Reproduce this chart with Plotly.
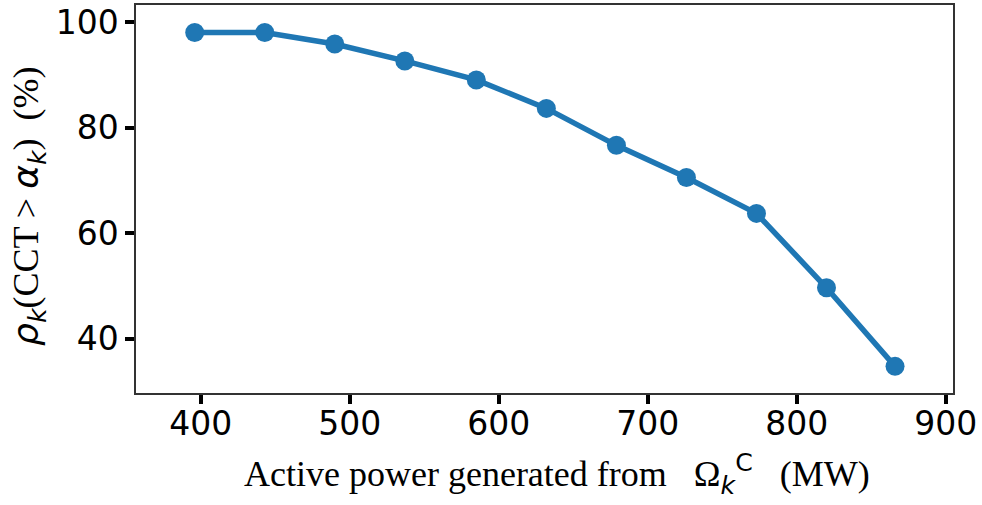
import plotly.graph_objects as go

power_mw = [396, 443, 490, 537, 585, 632, 679, 726, 773, 820, 866]
rho_pct = [98.1, 98.1, 95.9, 92.7, 89.1, 83.7, 76.7, 70.6, 63.8, 49.7, 34.8]
x_ticks = [400, 500, 600, 700, 800, 900]
y_ticks = [40, 60, 80, 100]

blue = "#1f77b4"
SANS_I = '<span style="font-family:DejaVu Sans;font-style:italic">{}</span>'
SANS = '<span style="font-family:DejaVu Sans">{}</span>'

fig = go.Figure()
fig.add_trace(go.Scatter(
    x=power_mw, y=rho_pct, mode="lines+markers",
    line=dict(color=blue, width=5.5),
    marker=dict(color=blue, size=19),
    showlegend=False,
))

axis_common = dict(
    showgrid=False, zeroline=False,
    showline=True, linecolor="#333333", linewidth=1.5, mirror=True,
    ticks="outside", ticklen=9, tickwidth=3.5, tickcolor="black",
    tickfont=dict(family="DejaVu Sans", size=33, color="black"),
)

L, R, T, B = 136, 953, 3, 393
W, H = 982, 505

fig.update_layout(
    width=W, height=H,
    margin=dict(l=L, r=W - R, t=T, b=H - B),
    paper_bgcolor="white", plot_bgcolor="white",
    xaxis=dict(range=[356.6, 904.9], tickvals=x_ticks, ticklabelstandoff=-8, **axis_common),
    yaxis=dict(range=[29.75, 103.3], tickvals=y_ticks, **axis_common),
)

xtitle = ("Active power generated from &nbsp; Ω" + "<sub>" + SANS_I.format("k") + "</sub>"
          + "<sup>" + SANS.format("C") + "</sup>" + " &nbsp; (MW)")
ytitle = (SANS_I.format("ρ") + "<sub>" + SANS_I.format("k") + "</sub>" + "(CCT &gt; "
          + SANS_I.format("α") + "<sub>" + SANS_I.format("k") + "</sub>"
          + ") &nbsp;(%)")

fig.add_annotation(
    text=xtitle, xref="paper", yref="paper",
    x=(557 - L) / (R - L), y=(B - 474) / (B - T),
    xanchor="center", yanchor="middle", showarrow=False,
    font=dict(family="Liberation Serif", size=36, color="black"),
)
fig.add_annotation(
    text=ytitle, xref="paper", yref="paper",
    x=(29 - L) / (R - L), y=(B - 206) / (B - T),
    xanchor="center", yanchor="middle", showarrow=False, textangle=-90,
    font=dict(family="Liberation Serif", size=36, color="black"),
)

fig.write_html("out.html")
